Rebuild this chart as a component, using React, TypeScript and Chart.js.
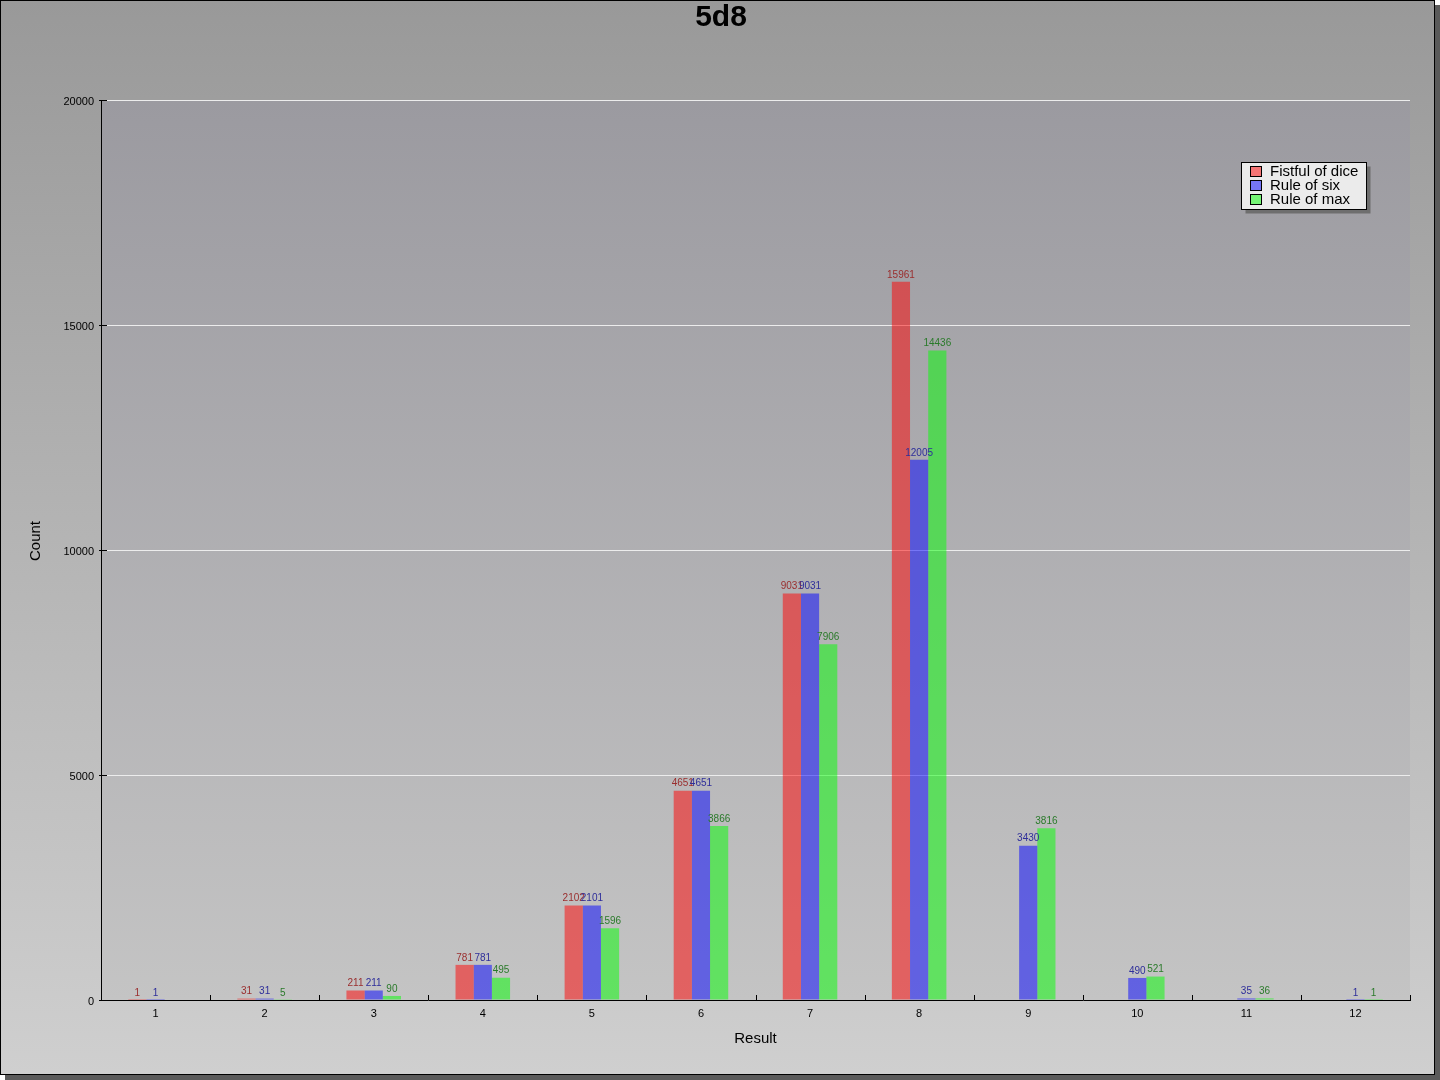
import React, { useEffect, useRef } from "react";
import { Chart, registerables } from "chart.js";

Chart.register(...registerables);

const TITLE = "5d8";
const X_TITLE = "Result";
const Y_TITLE = "Count";
const CATEGORIES = ["1", "2", "3", "4", "5", "6", "7", "8", "9", "10", "11", "12"];
const SERIES_NAMES = ["Fistful of dice", "Rule of six", "Rule of max"];
const FISTFUL = [1, 31, 211, 781, 2102, 4651, 9031, 15961, 0, 0, 0, 0];
const RULE_SIX = [1, 31, 211, 781, 2101, 4651, 9031, 12005, 3430, 490, 35, 1];
const RULE_MAX = [0, 5, 90, 495, 1596, 3866, 7906, 14436, 3816, 521, 36, 1];
const Y_TICKS = [0, 5000, 10000, 15000, 20000];
const BAR_COLORS = ["rgba(255,0,0,0.5)", "rgba(0,0,255,0.5)", "rgba(0,255,0,0.5)"];
const LABEL_COLORS = ["#9a2e2e", "#2e2e9a", "#2a7a2a"];

const FONT = '"Liberation Sans", Arial, sans-serif';

const decorPlugin = {
  id: "decor",
  beforeDraw(chart: any) {
    const ctx = chart.ctx as CanvasRenderingContext2D;
    const W = 1440, H = 1080;
    ctx.save();
    ctx.fillStyle = "#5a5a5a";
    ctx.fillRect(5, 5, W - 5, H - 5);
    const g = ctx.createLinearGradient(0, 0, 0, 1074);
    g.addColorStop(0, "#999999");
    g.addColorStop(1, "#cfcfcf");
    ctx.fillStyle = g;
    ctx.fillRect(0, 0, 1435, 1075);
    ctx.strokeStyle = "#000";
    ctx.lineWidth = 1;
    ctx.strokeRect(0.5, 0.5, 1434, 1074);
    const { left, top, right, bottom } = chart.chartArea;
    const g2 = ctx.createLinearGradient(0, top, 0, bottom);
    g2.addColorStop(0, "#9b9aa0");
    g2.addColorStop(1, "#c4c4c4");
    ctx.fillStyle = g2;
    ctx.fillRect(left, top, right - left, bottom - top);
    ctx.fillStyle = "#000";
    ctx.font = "bold 30px " + FONT;
    ctx.textAlign = "center";
    ctx.textBaseline = "middle";
    ctx.fillText(TITLE, 721, 18);
    // y axis title
    ctx.font = "15px " + FONT;
    ctx.translate(36, 541);
    ctx.rotate(-Math.PI / 2);
    ctx.fillText(Y_TITLE, 0, 0);
    ctx.restore();
  },
  afterDatasetsDraw(chart: any) {
    const ctx = chart.ctx as CanvasRenderingContext2D;
    ctx.save();
    ctx.font = "10px " + FONT;
    ctx.textAlign = "center";
    ctx.textBaseline = "bottom";
    chart.data.datasets.forEach((ds: any, i: number) => {
      const meta = chart.getDatasetMeta(i);
      meta.data.forEach((el: any, j: number) => {
        const v = ds.data[j];
        if (!v) return;
        ctx.fillStyle = LABEL_COLORS[i];
        ctx.fillText(String(v), el.x, el.y - 2);
      });
    });
    ctx.restore();
  },
  afterDraw(chart: any) {
    const ctx = chart.ctx as CanvasRenderingContext2D;
    const { left, right, bottom } = chart.chartArea;
    const yScale = chart.scales.y;
    ctx.save();
    ctx.strokeStyle = "#000";
    ctx.lineWidth = 1;
    ctx.beginPath();
    Y_TICKS.forEach((v) => {
      const y = Math.round(yScale.getPixelForValue(v)) + 0.5;
      ctx.moveTo(left - 2, y);
      ctx.lineTo(left + 6, y);
    });
    const catW = (right - left) / CATEGORIES.length;
    for (let k = 1; k <= CATEGORIES.length; k++) {
      const x = Math.round(left + k * catW) + 0.5;
      ctx.moveTo(x, bottom);
      ctx.lineTo(x, bottom - 5);
    }
    ctx.stroke();

    // legend
    const lx = 1241.5, ly = 162.5, lw = 125, lh = 47;
    ctx.fillStyle = "#6e6e6e";
    ctx.fillRect(lx + 4, ly + 4, lw, lh);
    ctx.fillStyle = "#ebebeb";
    ctx.fillRect(lx, ly, lw, lh);
    ctx.strokeStyle = "#000";
    ctx.strokeRect(lx, ly, lw, lh);
    ctx.font = "15px " + FONT;
    ctx.textAlign = "left";
    ctx.textBaseline = "middle";
    SERIES_NAMES.forEach((name, i) => {
      const cy = 171.5 + i * 14.2;
      const sy = Math.round(cy - 4.5);
      ctx.fillStyle = "#ebebeb";
      ctx.fillRect(1251, sy, 10, 9);
      ctx.fillStyle = BAR_COLORS[i];
      ctx.fillRect(1251, sy, 10, 9);
      ctx.strokeStyle = "#000";
      ctx.strokeRect(1250.5, sy - 0.5, 11, 10);
      ctx.fillStyle = "#000";
      ctx.fillText(name, 1270, cy);
    });
    ctx.restore();
  },
};

export default function App() {
  const ref = useRef<HTMLCanvasElement>(null);
  useEffect(() => {
    if (!ref.current) return;
    const chart = new Chart(ref.current, {
      type: "bar",
      data: {
        labels: CATEGORIES,
        datasets: [FISTFUL, RULE_SIX, RULE_MAX].map((d, i) => ({
          label: SERIES_NAMES[i],
          data: d,
          backgroundColor: BAR_COLORS[i],
          borderWidth: 0,
          categoryPercentage: 0.5,
          barPercentage: 1.0,
        })),
      },
      options: {
        animation: false,
        responsive: false,
        devicePixelRatio: 1,
        layout: { padding: { top: 100, right: 30, left: 0, bottom: 0 } },
        plugins: {
          legend: { display: false },
          title: { display: false },
          tooltip: { enabled: false },
        },
        scales: {
          x: {
            afterFit: (s: any) => { s.height = 80; },
            grid: { display: false, drawTicks: false },
            border: { display: true, color: "#000", width: 1 },
            ticks: { color: "#000", font: { size: 11, family: FONT }, padding: 7 },
            title: {
              display: true,
              text: X_TITLE,
              color: "#000",
              font: { size: 15, family: FONT },
              padding: { top: 0, bottom: 32 },
            },
          },
          y: {
            min: 0,
            max: 20000,
            afterFit: (s: any) => { s.width = 101; },
            afterBuildTicks: (s: any) => { s.ticks = Y_TICKS.map((v) => ({ value: v })); },
            grid: {
              drawTicks: false,
              color: (c: any) => (c.tick && c.tick.value === 0 ? "rgba(0,0,0,0)" : "#ececec"),
            },
            border: { display: true, color: "#000", width: 1 },
            ticks: {
              color: "#000",
              font: { size: 11, family: FONT },
              padding: 7,
              labelOffset: 2,
              callback: (v: any) => String(v),
            },
            title: { display: false },
          },
        },
      },
      plugins: [decorPlugin],
    });
    return () => chart.destroy();
  }, []);
  return (
    <div style={{ position: "fixed", left: 0, top: 0, width: 1440, height: 1080 }}>
      <canvas ref={ref} width={1440} height={1080} style={{ width: 1440, height: 1080, display: "block" }} />
    </div>
  );
}
